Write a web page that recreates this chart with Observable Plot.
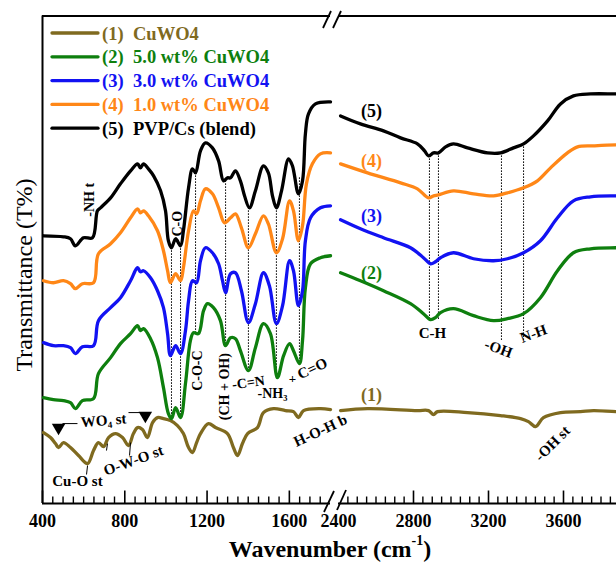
<!DOCTYPE html>
<html>
<head>
<meta charset="utf-8">
<script src="https://cdn.jsdelivr.net/npm/d3@7"></script>
<script src="https://cdn.jsdelivr.net/npm/@observablehq/plot@0.6"></script>
<style>
  html, body { margin: 0; padding: 0; background: #fff; overflow: hidden; }
  #chart svg { display: block; overflow: hidden; }
</style>
</head>
<body>
<div id="chart"></div>
<script>
// FTIR spectra: [wavenumber (cm-1), transmittance (offset, a.u.)]
// Each spectrum is split into a low window (400-1800) and a high window (2400-4000).
const seriesKeys = ["(1)", "(2)", "(3)", "(4)", "(5)"];
const seriesNames = ["CuWO4", "5.0 wt% CuWO4", "3.0 wt% CuWO4", "1.0 wt% CuWO4", "PVP/Cs (blend)"];
const seriesColors = ["#7f6a1f", "#0e7f0e", "#1212f2", "#ff8717", "#000000"];

const cuwo4Low = [[405,14.2],[439,13.2],[463,12.0],[478,11.2],[502,12.2],[536,11.2],[575,9.6],[619,8.0],[648,10.6],[672,12.2],[697,11.4],[721,13.2],[755,14.0],[789,13.2],[818,11.6],[842,14.0],[862,15.2],[886,14.8],[910,13.2],[935,16.2],[959,17.2],[988,17.0],[1022,16.6],[1056,15.6],[1085,14.0],[1110,11.2],[1129,10.2],[1149,12.2],[1168,14.0],[1207,16.0],[1241,15.2],[1299,14.0],[1328,11.2],[1348,9.6],[1372,12.0],[1397,14.0],[1445,15.2],[1474,18.2],[1523,19.0],[1581,18.6],[1620,18.4],[1644,17.2],[1669,18.6],[1751,19.0],[1800,18.8]];
const cuwo4High = [[2411,18.6],[2555,19.0],[2821,18.6],[2880,18.6],[2907,17.8],[2928,18.4],[3088,18.2],[3264,17.6],[3371,17.0],[3413,16.4],[3451,15.4],[3493,17.2],[3584,18.2],[3691,18.4],[3760,18.6],[3883,18.4],[4000,18.4]];

const wt5Low = [[405,21.2],[453,20.8],[502,20.6],[536,20.2],[560,19.0],[594,20.6],[648,21.0],[672,26.0],[731,29.2],[779,32.0],[828,34.0],[862,35.6],[876,34.6],[891,35.0],[925,33.0],[959,29.2],[988,23.2],[1012,18.0],[1027,17.0],[1047,19.2],[1071,17.2],[1095,24.0],[1119,32.6],[1134,34.2],[1158,34.0],[1183,38.6],[1202,40.0],[1231,39.2],[1265,36.6],[1290,31.6],[1314,33.2],[1338,33.0],[1362,30.6],[1401,26.6],[1435,31.2],[1474,36.0],[1508,34.0],[1542,25.2],[1572,29.6],[1601,32.0],[1620,30.6],[1649,28.0],[1664,32.6],[1678,43.2],[1703,48.0],[1751,49.2],[1800,49.6]];
const wt5High = [[2411,46.2],[2517,44.6],[2640,42.6],[2784,40.0],[2853,38.0],[2891,36.8],[2917,37.2],[2944,38.2],[3013,39.0],[3120,37.6],[3227,36.6],[3301,37.0],[3387,38.0],[3477,41.2],[3568,46.6],[3653,50.2],[3744,51.0],[3883,51.2],[4000,51.2]];

const wt3Low = [[405,32.2],[453,31.6],[502,31.6],[536,31.2],[560,30.0],[594,31.4],[648,31.6],[672,36.6],[731,39.2],[779,41.2],[828,44.6],[862,47.2],[876,46.4],[891,46.6],[925,45.2],[959,42.6],[988,39.2],[1008,34.0],[1022,29.6],[1047,31.6],[1071,30.0],[1095,34.6],[1110,40.6],[1129,44.6],[1149,44.2],[1168,48.6],[1192,51.2],[1226,50.2],[1256,48.0],[1275,44.6],[1290,42.2],[1314,46.0],[1338,46.2],[1367,42.6],[1401,36.2],[1435,40.0],[1474,46.2],[1503,43.6],[1537,36.0],[1567,39.6],[1601,48.6],[1620,46.6],[1644,39.6],[1664,42.6],[1678,52.6],[1703,57.2],[1751,59.2],[1800,59.6]];
const wt3High = [[2411,56.8],[2517,55.0],[2640,53.2],[2784,51.2],[2853,49.2],[2891,48.0],[2917,48.4],[2944,49.2],[3013,50.2],[3120,49.0],[3227,48.6],[3301,49.0],[3387,50.2],[3477,52.6],[3568,57.2],[3653,60.6],[3744,61.4],[3883,61.6],[4000,61.6]];

const wt1Low = [[405,44.6],[453,44.2],[502,44.6],[536,44.0],[560,43.0],[594,44.0],[648,44.2],[672,50.0],[731,52.0],[779,54.2],[828,57.2],[862,59.0],[876,58.2],[891,58.6],[915,57.6],[959,54.6],[988,50.6],[1008,46.6],[1022,44.2],[1047,46.0],[1071,44.6],[1085,47.2],[1110,54.6],[1134,58.6],[1149,58.0],[1168,60.6],[1192,63.0],[1226,62.0],[1256,59.2],[1285,56.2],[1314,57.2],[1338,58.0],[1367,55.2],[1401,51.2],[1435,54.0],[1474,57.6],[1498,56.0],[1537,50.2],[1567,53.0],[1601,60.6],[1620,58.6],[1644,52.6],[1664,55.6],[1683,64.0],[1712,68.0],[1751,70.0],[1800,70.2]];
const wt1High = [[2411,68.0],[2555,66.2],[2731,64.2],[2821,63.0],[2880,61.2],[2907,61.6],[2933,61.8],[3013,62.6],[3120,62.0],[3227,61.6],[3301,62.2],[3387,63.2],[3461,64.6],[3531,67.2],[3621,70.2],[3675,71.4],[3760,71.6],[3883,71.8],[4000,71.8]];

const blendLow = [[405,53.6],[502,53.4],[536,53.0],[560,51.6],[599,53.2],[643,53.2],[667,58.6],[682,59.2],[731,61.2],[779,64.0],[828,66.6],[862,68.0],[876,67.2],[891,68.0],[915,67.0],[940,65.6],[974,62.6],[998,58.6],[1012,52.6],[1027,51.2],[1047,53.0],[1071,51.6],[1085,54.6],[1110,63.2],[1129,67.0],[1144,66.2],[1168,70.6],[1192,72.2],[1226,71.2],[1256,68.6],[1280,64.6],[1299,65.2],[1314,65.2],[1338,66.6],[1362,64.6],[1382,61.6],[1406,59.2],[1435,62.6],[1474,67.6],[1498,66.2],[1518,61.6],[1537,59.2],[1562,62.6],[1596,69.0],[1615,67.6],[1644,62.0],[1664,64.6],[1678,74.0],[1693,78.0],[1727,80.0],[1800,80.4]];
const blendHigh = [[2411,77.6],[2517,76.0],[2640,74.6],[2731,73.2],[2821,72.0],[2859,70.6],[2880,69.6],[2907,70.2],[2933,70.2],[2971,71.4],[3013,72.0],[3088,71.2],[3195,70.2],[3264,70.2],[3333,71.2],[3387,72.0],[3440,73.6],[3515,76.6],[3584,80.0],[3653,81.6],[3744,82.0],[3883,82.0],[4000,82.0]];

// Band positions: [wavenumber, upper T, lower T]
const bandLines = [[1027,51.2,17.0],[1071,51.6,17.2],[1144,66.2,34.0],[1290,64.6,31.6],[1401,59.2,26.6],[1537,59.2,25.2],[1649,65.2,28.2],[2885,69.6,36.6],[2933,70.2,36.6],[3269,70.2,32.6],[3387,72.0,32.6]];

// Band assignments: [text, wavenumber, T, angle, font size]
const bandLabels = [
  ["-NH t", 628, 60.8, -90, 14],
  ["C-O", 1056, 56.0, -90, 14],
  ["C-O-C", 1153, 26.6, -90, 14],
  ["(CH + OH)", 1285, 23.4, -90, 14],
  ["-C=N", 1401, 24.2, -8, 14],
  ["-NH\u2083", 1518, 22.0, 0, 14],
  ["+", 1615, 25.0, 0, 13],
  ["C=O", 1712, 27.0, -25, 15],
  ["H-O-H b", 1751, 14.6, -25, 15],
  ["WO\u2084 st", 697, 16.6, -5, 15],
  ["O-W-O st", 842, 8.6, -20, 15],
  ["Cu-O st", 570, 4.4, 0, 15],
  ["C-H", 2901, 34.0, 0, 15],
  ["-OH", 3253, 31.0, 20, 15],
  ["N-H", 3440, 34.0, -20, 15],
  ["-OH st", 3541, 12.0, -45, 15]
];
// Leader segments for the CuWO4 band labels: [w1, t1, w2, t2]
const leaderSegs = [[497,16.0,570,16.0],[818,18.2,876,18.2],[619,7.6,614,5.8],[716,12.0,711,10.6],[828,12.2,823,9.6]];
// WO4 stretching markers: [wavenumber, T]
const wo4Marks = [[478,15.2],[900,17.6]];
// Curve numbers in the high window: [key, wavenumber, T]
const curveTags = [["(1)",2576,21.6],["(2)",2576,46.2],["(3)",2576,57.6],["(4)",2576,68.6],["(5)",2576,78.6]];

const xMajor = [400, 800, 1200, 1600, 2400, 2800, 3200, 3600, 4000];
const xLabelled = [400, 800, 1200, 1600, 2400, 2800, 3200, 3600];

// ---- build tables ----
const spectra = [[cuwo4Low, cuwo4High],[wt5Low, wt5High],[wt3Low, wt3High],[wt1Low, wt1High],[blendLow, blendHigh]];
const rows = spectra.flatMap((parts, i) => parts.flatMap((pts, j) =>
  pts.map(([w, t]) => ({key: seriesKeys[i], seg: seriesKeys[i] + "-" + j, w, t}))));
const xMinor = d3.range(450, 1800, 50).concat(d3.range(2450, 4001, 50)).filter(v => !xMajor.includes(v));
const bands = bandLabels.map(([label, w, t, angle, size]) => ({label, w, t, angle, size}));
const leaders = leaderSegs.map(([w1, t1, w2, t2]) => ({w1, t1, w2, t2}));
const tags = curveTags.map(([key, w, t]) => ({key, w, t}));
const colorOf = Object.fromEntries(seriesKeys.map((k, i) => [k, seriesColors[i]]));

const serif = "'Liberation Serif', 'Times New Roman', Times, serif";

const plot = Plot.plot({
  width: 616,
  height: 562,
  x: {type: "linear", domain: [400, 1800, 2400, 4000], range: [42, 330, 338, 638], axis: null},
  y: {domain: [0, 97.6], range: [503, 15.5], axis: null},
  color: {domain: seriesKeys, range: seriesColors},
  style: {fontFamily: serif, background: "#fff"},
  marks: [
    // frame
    Plot.ruleY([0, 97.6], {x1: 400, x2: 1800, stroke: "#000", strokeWidth: 2}),
    Plot.ruleY([0, 97.6], {x1: 2400, x2: 4000, stroke: "#000", strokeWidth: 2}),
    Plot.ruleX([400], {y1: 0, y2: 97.6, stroke: "#000", strokeWidth: 2}),
    Plot.ruleX(xMinor, {y1: 0, y2: 1.3, stroke: "#000", strokeWidth: 1.4}),
    Plot.ruleX(xMajor.filter(v => v !== 2400), {y1: 0, y2: 2.5, stroke: "#000", strokeWidth: 1.6}),
    Plot.text(xLabelled, {x: d => d, y: 0, dy: 18, text: d => String(d), fontSize: 18, fontWeight: "bold", fill: "#000"}),
    // band guides
    Plot.ruleX(bandLines, {x: d => d[0], y1: d => d[1], y2: d => d[2], stroke: "#000", strokeWidth: 1, strokeDasharray: "1.6,1.4"}),
    // spectra
    Plot.lineY(rows, {x: "w", y: "t", z: "seg", stroke: "key", strokeWidth: 3.3, curve: "catmull-rom", strokeLinejoin: "round", strokeLinecap: "round"}),
    // band annotations
    Plot.link(leaders, {x1: "w1", y1: "t1", x2: "w2", y2: "t2", stroke: "#000", strokeWidth: 1}),
    Plot.dot(wo4Marks, {x: d => d[0], y: d => d[1], symbol: "triangle", rotate: 180, r: 5, fill: "#000", stroke: "none"}),
    Plot.text(bands, {x: "w", y: "t", text: "label", rotate: "angle", fontSize: "size", fontWeight: "bold", fill: "#000"}),
    Plot.text(tags, {x: "w", y: "t", text: "key", fill: d => colorOf[d.key], fontSize: 18, fontWeight: "bold"})
  ]
});

// axis break marks, legend and axis titles
const svg = d3.select(plot);
const xs = plot.scale("x");
const xb1 = xs.apply(1800), xb2 = xs.apply(2400);
const brk = svg.append("g").attr("stroke", "#000").attr("stroke-width", 1.8).attr("fill", "none");
[[xb1 - 6, 512, xb1 + 4, 491], [xb2 - 1, 510, xb2 + 8, 490], [xb1 - 7, 28, xb1 + 1, 11], [xb2 - 5, 28, xb2 + 3, 11]]
  .forEach(([a, b, c, d]) => brk.append("line").attr("x1", a).attr("y1", b).attr("x2", c).attr("y2", d));

const lg = svg.append("g").attr("font-family", serif).attr("font-weight", "bold")
  .attr("font-size", 18.5).attr("text-anchor", "start");
seriesKeys.forEach((k, i) => {
  const y = 33 + i * 23.8;
  lg.append("line").attr("x1", 52).attr("x2", 98).attr("y1", y).attr("y2", y)
    .attr("stroke", seriesColors[i]).attr("stroke-width", 3.3).attr("stroke-linecap", "round");
  lg.append("text").attr("x", 102).attr("y", y + 6.5).attr("fill", seriesColors[i]).text(k);
  lg.append("text").attr("x", 133).attr("y", y + 6.5).attr("fill", seriesColors[i]).text(seriesNames[i]);
});

const xt = svg.append("text").attr("x", 330).attr("y", 557).attr("text-anchor", "middle")
  .attr("font-family", serif).attr("font-weight", "bold").attr("font-size", 24).attr("fill", "#000");
xt.append("tspan").text("Wavenumber (cm");
xt.append("tspan").attr("font-size", 14).attr("dy", -12).text("-1");
xt.append("tspan").attr("dy", 12).text(")");

svg.append("text").attr("transform", "translate(32,275) rotate(-90)").attr("text-anchor", "middle")
  .attr("font-family", serif).attr("font-size", 24).attr("fill", "#000").text("Transmittance (T%)");

document.getElementById("chart").appendChild(plot);
</script>
</body>
</html>
